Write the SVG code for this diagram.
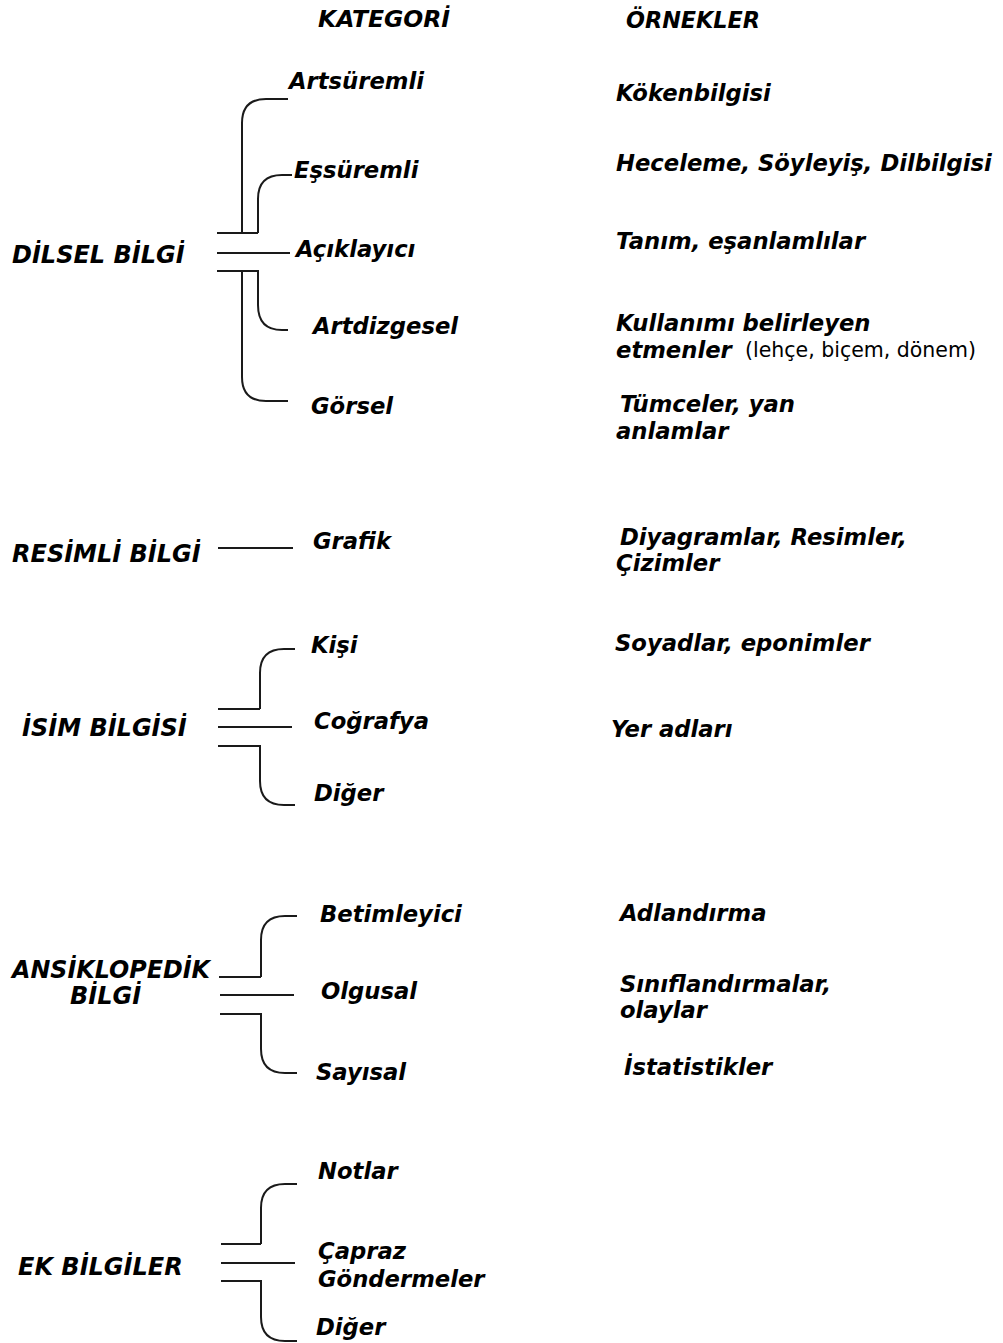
<svg xmlns="http://www.w3.org/2000/svg" width="1003" height="1343" viewBox="0 0 1003 1343">
<style>
text{font-family:"DejaVu Sans","Liberation Sans",sans-serif;font-weight:bold;font-style:italic;font-size:22.7px;fill:#000}
.hd{font-family:"DejaVu Sans Condensed","DejaVu Sans",sans-serif;font-size:23px}
.lb{font-size:24px}
.rg{font-weight:normal;font-style:normal;font-size:20.5px}
.ln{fill:none;stroke:#1a1a1a;stroke-width:2}
</style>
<rect width="1003" height="1343" fill="#fff"/>
<g id="header">
<text class="hd" x="318" y="27" textLength="132" lengthAdjust="spacingAndGlyphs">KATEGORİ</text>
<text class="hd" x="626" y="28" textLength="134" lengthAdjust="spacingAndGlyphs">ÖRNEKLER</text>
</g>
<g id="connectors" class="ln">
<path d="M288,99 H266 Q242,99 242,123 V233"/>
<path d="M292,175 H282 Q258,175 258,199 V233"/>
<path d="M217,233 H258"/>
<path d="M217,253 H290"/>
<path d="M217,271 H258 V305 Q258,330 282,330 H288"/>
<path d="M242,271 V377 Q242,401 266,401 H288"/>
<path d="M218,548 H293"/>
<path d="M295,649 H284 Q260,649 260,673 V709"/>
<path d="M218,709 H260"/>
<path d="M218,727 H292"/>
<path d="M218,746 H260 V781 Q260,805 284,805 H295"/>
<path d="M297,916 H285 Q261,916 261,940 V977"/>
<path d="M219,977 H261"/>
<path d="M220,995 H294"/>
<path d="M220,1014 H261 V1049 Q261,1073 285,1073 H297"/>
<path d="M297,1184 H285 Q261,1184 261,1208 V1244"/>
<path d="M221,1244 H261"/>
<path d="M221,1263 H295"/>
<path d="M221,1281 H261 V1317 Q261,1341 285,1341 H297"/>
</g>
<g id="dilsel">
<text class="lb" x="12" y="263">DİLSEL BİLGİ</text>
<text x="289" y="89">Artsüremli</text>
<text x="294" y="178">Eşsüremli</text>
<text x="296" y="257">Açıklayıcı</text>
<text x="313" y="334">Artdizgesel</text>
<text x="311" y="414">Görsel</text>
<text x="616" y="101">Kökenbilgisi</text>
<text x="616" y="171">Heceleme, Söyleyiş, Dilbilgisi</text>
<text x="616" y="249">Tanım, eşanlamlılar</text>
<text x="616" y="331">Kullanımı belirleyen</text>
<text x="616" y="358">etmenler</text>
<text class="rg" x="745" y="357">(lehçe, biçem, dönem)</text>
<text x="620" y="412">Tümceler, yan</text>
<text x="616" y="439">anlamlar</text>
</g>
<g id="resimli">
<text class="lb" x="12" y="562">RESİMLİ BİLGİ</text>
<text x="313" y="549">Grafik</text>
<text x="620" y="545">Diyagramlar, Resimler,</text>
<text x="616" y="571">Çizimler</text>
</g>
<g id="isim">
<text class="lb" x="22" y="736">İSİM BİLGİSİ</text>
<text x="311" y="653">Kişi</text>
<text x="314" y="729">Coğrafya</text>
<text x="314" y="801">Diğer</text>
<text x="615" y="651">Soyadlar, eponimler</text>
<text x="611" y="737">Yer adları</text>
</g>
<g id="ansiklopedik">
<text class="lb" x="12" y="978" textLength="198" lengthAdjust="spacingAndGlyphs">ANSİKLOPEDİK</text>
<text class="lb" x="70" y="1004">BİLGİ</text>
<text x="320" y="922">Betimleyici</text>
<text x="321" y="999">Olgusal</text>
<text x="316" y="1080">Sayısal</text>
<text x="620" y="921">Adlandırma</text>
<text x="620" y="992">Sınıflandırmalar,</text>
<text x="620" y="1018">olaylar</text>
<text x="624" y="1075">İstatistikler</text>
</g>
<g id="ek">
<text class="lb" x="18" y="1275">EK BİLGİLER</text>
<text x="318" y="1179">Notlar</text>
<text x="318" y="1259">Çapraz</text>
<text x="318" y="1287">Göndermeler</text>
<text x="316" y="1335">Diğer</text>
</g>
</svg>
